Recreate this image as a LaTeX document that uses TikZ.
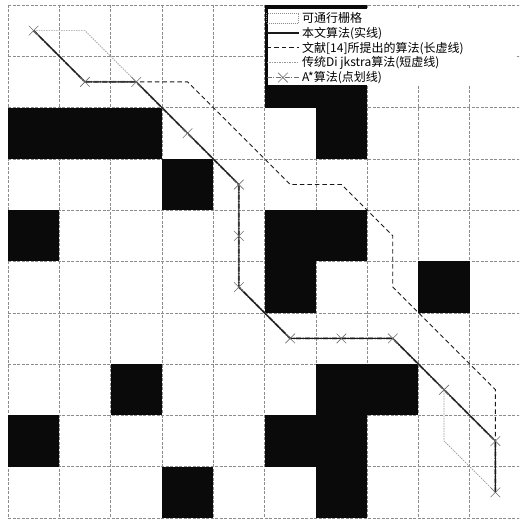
\documentclass[tikz,border=0pt]{standalone}
\usepackage{fontspec}
\newfontfamily\cjk{Noto Sans CJK SC}
\usetikzlibrary{positioning,shapes.misc}
\definecolor{gridline}{HTML}{8C8C8C}
\definecolor{blocked}{HTML}{0A0A0A}
\definecolor{ink}{HTML}{1A1A1A}
\definecolor{mid}{HTML}{707070}
\definecolor{soft}{HTML}{9A9A9A}
\tikzset{
  grid_line/.style={draw=gridline,line width=0.5pt,dash pattern=on 3pt off 1.5pt},
  cell_block/.style={fill=blocked},
  leg_box/.style={fill=white},
  leg_text/.style={font=\cjk\fontsize{12}{14}\selectfont,inner xsep=0pt,inner ysep=1pt,
    text height=10.5pt,text depth=2pt,anchor=west},
  free_box/.style={draw=gridline,line width=0.5pt,dash pattern=on 1pt off 1pt,
    minimum width=32pt,minimum height=10pt,inner sep=0pt},
  path_ours/.style={draw=ink,line width=1.1pt},
  path_ref/.style={draw=ink,line width=0.9pt,dash pattern=on 4.5pt off 3pt},
  path_dij/.style={draw=soft,line width=0.7pt,dash pattern=on 1.5pt off 1pt},
  path_astar/.style={draw=mid,line width=2pt,dash pattern=on 5pt off 1.5pt on 1pt off 1.5pt},
  mark_x/.style={cross out,draw=mid,line width=0.6pt,minimum size=9pt,inner sep=0pt},
}
\begin{document}
\begin{tikzpicture}[x=51.3pt,y=-51.3pt]

  \useasboundingbox (-0.156,-0.097) rectangle (9.961,10.039);
  \clip (-0.156,-0.097) rectangle (9.961,10.039);
  \fill[white] (-0.156,-0.097) rectangle (9.961,10.039);

  \foreach \k in {0,...,10}{
    \draw[grid_line] (\k,0) -- (\k,10);
    \draw[grid_line] (0,\k) -- (10,\k);
  }
  \foreach \c/\r in {5/0,6/0,5/1,6/1,0/2,1/2,2/2,6/2,3/3,0/4,5/4,6/4,5/5,8/5,
                     2/7,6/7,7/7,0/8,5/8,6/8,3/9,6/9}
    \fill[cell_block] (\c,\r) rectangle ++(1,1);

  \foreach \i in {0,...,9}{
    \foreach \j in {0,...,9}{
      \coordinate (c\i\j) at (\i+0.5,\j+0.5);
    }
  }

  \fill[leg_box] (5.068,0.078) rectangle (9.90,1.56);
  \node[leg_text] (lg_free) at (5.73,0.253) {可通行栅格};
  \node[leg_text,below=0pt of lg_free.south west,anchor=north west] (lg_ours) {本文算法(实线)};
  \node[leg_text,below=0pt of lg_ours.south west,anchor=north west] (lg_ref) {文献[14]所提出的算法(长虚线)};
  \node[leg_text,below=0pt of lg_ref.south west,anchor=north west] (lg_dij) {传统Di jkstra算法(短虚线)};
  \node[leg_text,below=0pt of lg_dij.south west,anchor=north west] (lg_astar) {A*算法(点划线)};

  \node[free_box,left=3pt of lg_free.west] (lg_free_box) {};
  \coordinate[left=35pt of lg_ours.west] (ls_ours_a);   \coordinate[left=3pt of lg_ours.west] (ls_ours_b);
  \coordinate[left=35pt of lg_ref.west] (ls_ref_a);     \coordinate[left=3pt of lg_ref.west] (ls_ref_b);
  \coordinate[left=35pt of lg_dij.west] (ls_dij_a);     \coordinate[left=3pt of lg_dij.west] (ls_dij_b);
  \coordinate[left=35pt of lg_astar.west] (ls_astar_a); \coordinate[left=3pt of lg_astar.west] (ls_astar_b);
  \coordinate[left=19pt of lg_astar.west] (ls_astar_m);

  \draw[path_ours,line width=1.5pt] (ls_ours_a) -- (ls_ours_b);
  \draw[path_ref] (ls_ref_a) -- (ls_ref_b);
  \draw[path_dij] (ls_dij_a) -- (ls_dij_b);
  \draw[path_astar,line width=0.7pt] (ls_astar_a) -- (ls_astar_b);
  \node[mark_x] (lg_astar_x) at (ls_astar_m) {};

  \draw[path_dij] (c00) -- (c10) -- (c21) -- (c32) -- (c43) -- (c44) -- (c45) -- (c56)
    -- (c66) -- (c76) -- (c87) -- (c88) -- (c99);
  \draw[path_ref] (c00) -- (c11) -- (c21) -- (c31) -- (c53) -- (c63) -- (c74) -- (c75)
    -- (c97) -- (c99);
  \draw[path_astar] (c00) -- (c11) -- (c21) -- (c32) -- (c43) -- (c44) -- (c45) -- (c56)
    -- (c66) -- (c76) -- (c87) -- (c98) -- (c99);
  \draw[path_ours] (c00) -- (c11) -- (c21) -- (c32) -- (c43) -- (c44) -- (c45) -- (c56)
    -- (c66) -- (c76) -- (c87) -- (c98) -- (c99);
  \foreach \p in {c00,c11,c21,c32,c43,c44,c45,c56,c66,c76,c87,c98,c99}
    \node[mark_x] (x_\p) at (\p) {};

\end{tikzpicture}
\end{document}
